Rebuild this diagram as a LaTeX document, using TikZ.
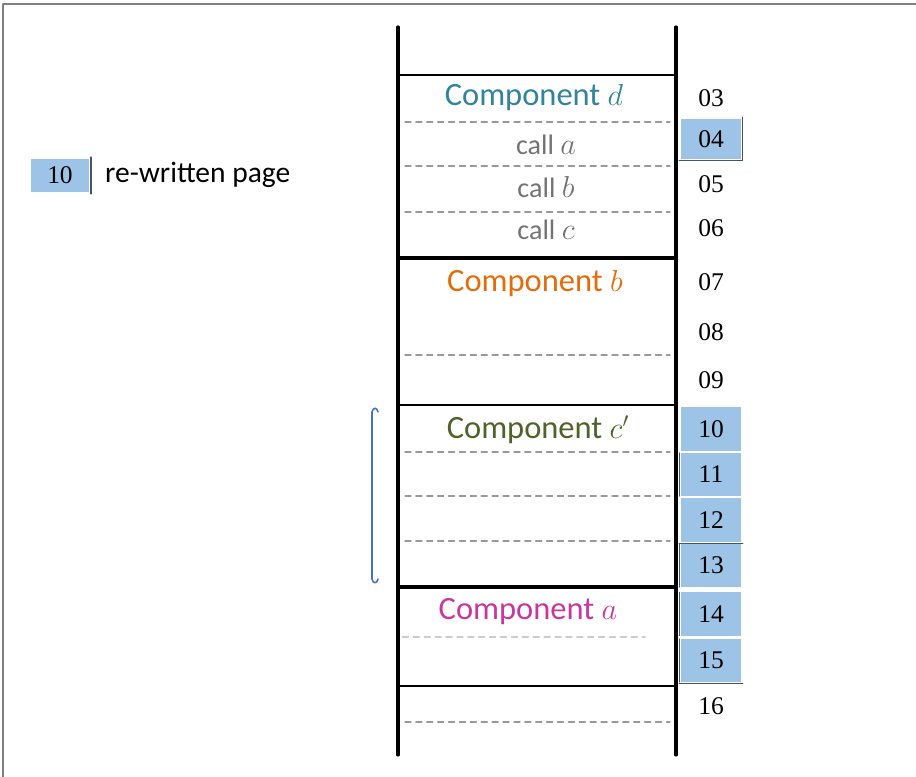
\documentclass[tikz,border=0pt]{standalone}
\usepackage{fontspec}
\usepackage{xcolor}
\setmainfont{Carlito}
\newfontfamily\numfont{Liberation Serif}
\definecolor{compD}{HTML}{31849B}
\definecolor{compB}{HTML}{E46C0A}
\definecolor{compC}{HTML}{4F6228}
\definecolor{compA}{HTML}{C8379E}
\definecolor{pageblue}{HTML}{9DC3E6}
\definecolor{pageedge}{HTML}{44546A}
\definecolor{bracecol}{HTML}{4472C4}

\begin{document}
\begin{tikzpicture}[
    line cap=round,
    line join=round,
    scale=1,
    stackwall/.style={line width=1.8pt, black},
    stackline/.style={line width=1.2pt, black},
    stackthick/.style={line width=1.8pt, black},
    dashsep/.style={line width=0.8pt, gray!80, dash pattern=on 3.4pt off 2.8pt},
    comp/.style={font=\fontsize{18.5}{22}\selectfont},
    callnote/.style={font=\fontsize{16}{19}\selectfont, text=black!55},
    pagenum/.style={font=\numfont\fontsize{14.5}{17}\selectfont},
    rewritten/.style={pagenum, fill=pageblue, draw=white, line width=1pt,
        minimum width=1.24cm, minimum height=0.9cm, inner sep=0pt}
]
\useasboundingbox (0,0) rectangle (18.32,15.54);

%------------------------------------------------
% Outer frame (top and left)
%------------------------------------------------
\draw[gray, line width=1pt] (0.06,0) -- (0.06,15.46) -- (18.32,15.46);

%------------------------------------------------
% Legend
%------------------------------------------------
\node[rewritten, minimum width=1.2cm, minimum height=0.7cm] (legbox) at (1.20,12.03) {10};
\draw[pageedge, line width=0.8pt] (legbox.north east) -- (legbox.south east);
\node[anchor=west, font=\fontsize{16.8}{20}\selectfont] (legtext) at (1.98,12.04) {re-written page};

%------------------------------------------------
% Stack walls
%------------------------------------------------
\draw[stackwall] (7.96,15.00) -- (7.96,0.44);
\draw[stackwall] (13.52,15.00) -- (13.52,0.44);

%------------------------------------------------
% Component boundaries
%------------------------------------------------
\draw[stackline]  (7.96,14.04) -- (13.52,14.04);
\draw[stackthick] (7.96,10.38) -- (13.52,10.38);
\draw[stackline]  (7.96,7.44) -- (13.52,7.44);
\draw[stackthick] (7.96,3.80) -- (13.52,3.80);
\draw[stackline]  (7.96,1.82) -- (13.52,1.82);

%------------------------------------------------
% Page separators
%------------------------------------------------
\foreach \y in {13.10,12.22,11.30,8.44,6.50,5.62,4.72,1.10}
    \draw[dashsep] (8.10,\y) -- (13.40,\y);
\draw[dashsep, gray!40] (8.05,2.80) -- (12.90,2.80);

%------------------------------------------------
% Component labels
%------------------------------------------------
\node[comp, text=compD] (compd) at (10.68,13.58) {Component $d$};
\node[callnote] (calla) at (10.92,12.64) {call $a$};
\node[callnote] (callb) at (10.92,11.80) {call $b$};
\node[callnote] (callc) at (10.92,10.94) {call $c$};
\node[comp, text=compB] (compb) at (10.70,9.86) {Component $b$};
\node[comp, text=compC] (compc) at (10.76,6.94) {Component $c'$};
\node[comp, text=compA] (compa) at (10.56,3.30) {Component $a$};

%------------------------------------------------
% Page numbers
%------------------------------------------------
\node[pagenum] (p03) at (14.22,13.58) {03};
\node[rewritten, minimum height=0.84cm] (p04) at (14.22,12.76) {04};
\draw[pageedge, line width=0.6pt] (p04.north east) -- (p04.south east) -- (p04.south west);
\node[pagenum] (p05) at (14.22,11.86) {05};
\node[pagenum] (p06) at (14.22,10.98) {06};
\node[pagenum] (p07) at (14.22,9.90) {07};
\node[pagenum] (p08) at (14.22,8.90) {08};
\node[pagenum] (p09) at (14.22,7.94) {09};
\node[rewritten] (p10) at (14.22,6.96) {10};
\node[rewritten] (p11) at (14.22,6.05) {11};
\node[rewritten] (p12) at (14.22,5.14) {12};
\node[rewritten] (p13) at (14.22,4.23) {13};
\node[rewritten] (p14) at (14.22,3.26) {14};
\node[rewritten] (p15) at (14.22,2.33) {15};
\node[pagenum] (p16) at (14.22,1.42) {16};

% darker edges on the re-written pages
\foreach \p in {p11,p13,p14,p15}
    \draw[pageedge, line width=0.6pt] ([yshift=-1pt]\p.north west) -- ([yshift=1pt]\p.south west);
\draw[pageedge, line width=0.6pt] (p12.south west) -- (p12.south east);
\draw[pageedge, line width=0.6pt] (p15.south west) -- (p15.south east);

%------------------------------------------------
% Bracket for component c'
%------------------------------------------------
\draw[bracecol, line width=0.9pt]
    (7.56,7.30) .. controls (7.54,7.40) and (7.46,7.40) .. (7.44,7.30)
    -- (7.44,3.96)
    .. controls (7.46,3.86) and (7.54,3.86) .. (7.56,3.96);

\end{tikzpicture}
\end{document}
